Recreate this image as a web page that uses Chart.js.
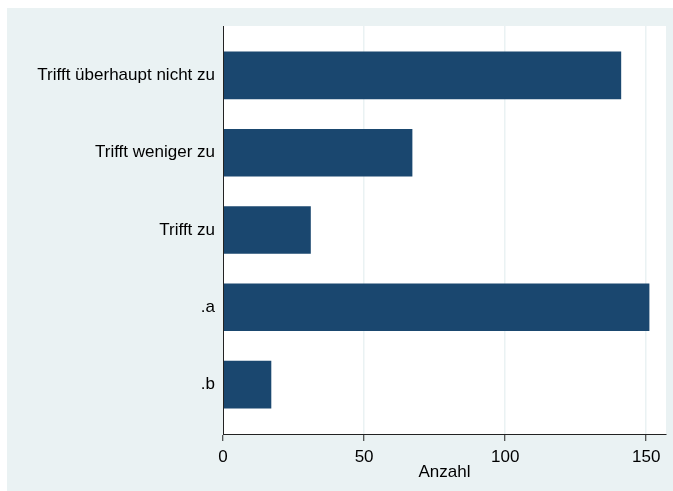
<!DOCTYPE html>
<html>
<head>
<meta charset="utf-8">
<script src="https://cdn.jsdelivr.net/npm/chart.js@4.4.0/dist/chart.umd.min.js"></script>
<style>
  html, body { margin: 0; padding: 0; background: #fff; }
  #wrap { width: 673px; height: 491px; position: relative; }
</style>
</head>
<body>
<div id="wrap"><canvas id="myChart"></canvas></div>
<script>
const categories = ["Trifft überhaupt nicht zu", "Trifft weniger zu", "Trifft zu", ".a", ".b"];
const counts = [141, 67, 31, 151, 17];
const xTicks = [0, 50, 100, 150];

const panelColor = "#eaf2f3";
const barColor = "#1a476f";
const font = { family: "'Liberation Sans', Arial, sans-serif", size: 17 };

// light panel + white plot region, like the Stata s2color scheme
const backdrop = {
  id: "backdrop",
  beforeDraw(chart) {
    const c = chart.ctx;
    const a = chart.chartArea;
    c.save();
    c.fillStyle = "#fff";
    c.fillRect(0, 0, chart.width, chart.height);
    c.fillStyle = panelColor;
    c.fillRect(7, 8, chart.width - 7, chart.height - 8);
    c.fillStyle = "#fff";
    c.fillRect(a.left, a.top, a.right - a.left, a.bottom - a.top);
    c.restore();
  },
};

const ctx = document.getElementById("myChart").getContext("2d");
const myChart = new Chart(ctx, {
  type: "bar",
  data: {
    datasets: [
      {
        data: counts.map((v, i) => ({ x: v, y: i })),
        backgroundColor: barColor,
        borderWidth: 0,
        barThickness: 47,
      },
    ],
  },
  options: {
    indexAxis: "y",
    responsive: true,
    maintainAspectRatio: false,
    animation: false,
    layout: { padding: { left: 0, top: 26, right: 7, bottom: 0 } },
    plugins: {
      legend: { display: false },
      tooltip: { enabled: false },
    },
    scales: {
      x: {
        type: "linear",
        min: 0,
        max: 157,
        afterBuildTicks: (scale) => {
          scale.ticks = xTicks.map((v) => ({ value: v }));
        },
        afterFit: (scale) => {
          scale.height = 57;
        },
        grid: {
          color: panelColor,
          lineWidth: 1.5,
          drawTicks: true,
          tickLength: 7,
          tickColor: "#222",
          tickWidth: 1,
        },
        border: { display: true, color: "#222", width: 1 },
        ticks: { color: "#000", font: font, padding: 6, maxRotation: 0 },
        title: {
          display: true,
          text: "Anzahl",
          color: "#000",
          font: font,
          padding: { top: 0, bottom: 8 },
        },
      },
      y: {
        type: "linear",
        reverse: true,
        offset: false,
        min: -0.64,
        max: 4.64,
        afterBuildTicks: (scale) => {
          scale.ticks = categories.map((_, i) => ({ value: i }));
        },
        afterFit: (scale) => {
          scale.width = 223;
        },
        grid: { display: false, drawTicks: false, offset: false },
        border: { display: true, color: "#222", width: 1, z: 1 },
        ticks: {
          color: "#000",
          font: font,
          padding: 8,
          autoSkip: false,
          callback: (v) => categories[v],
        },
      },
    },
  },
  plugins: [backdrop],
});
</script>
</body>
</html>
